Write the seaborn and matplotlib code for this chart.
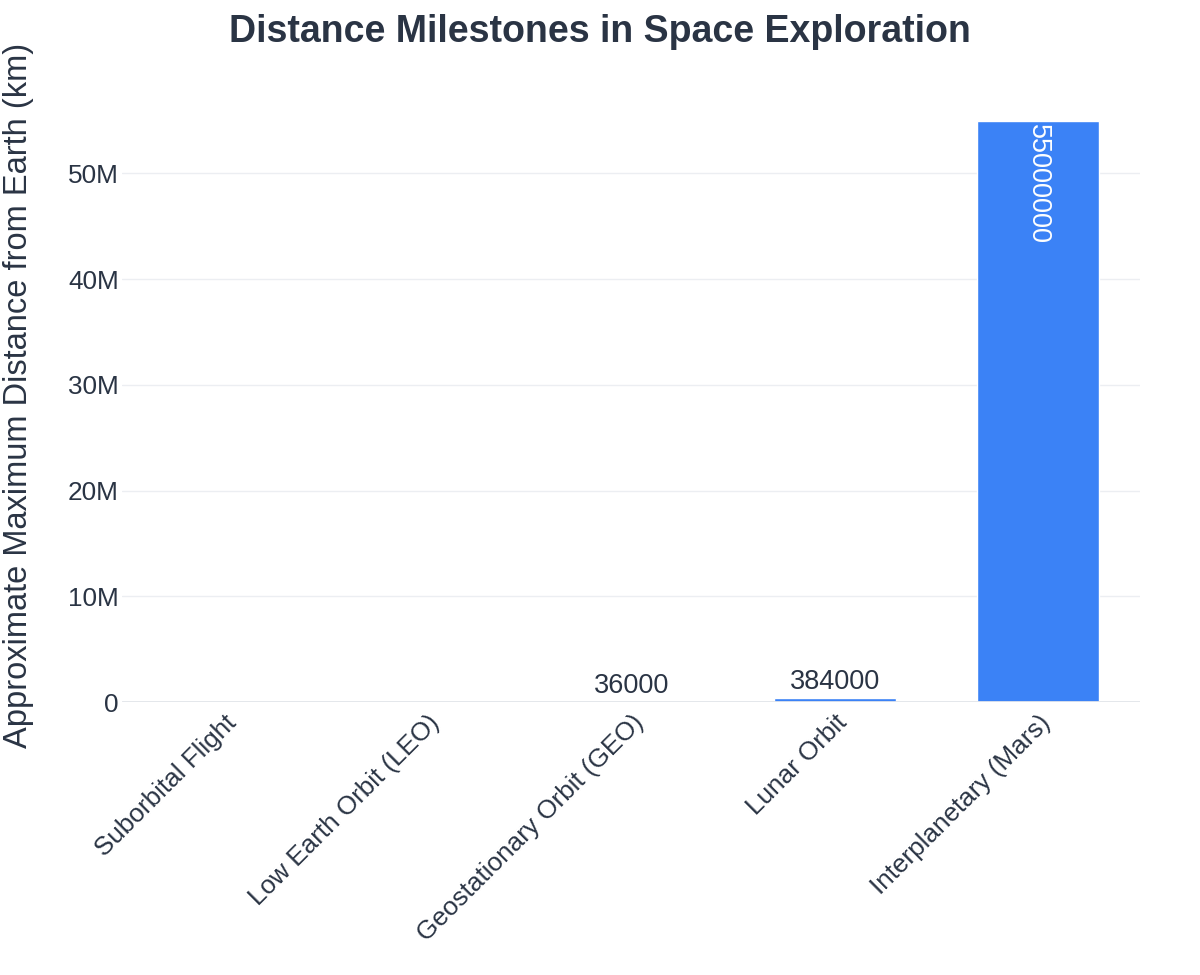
import pandas as pd
import matplotlib.pyplot as plt
import seaborn as sns
from matplotlib.ticker import FuncFormatter

# Data
milestones = ['Suborbital Flight', 'Low Earth Orbit (LEO)', 'Geostationary Orbit (GEO)',
              'Lunar Orbit', 'Interplanetary (Mars)']
distances_km = [100, 2000, 36000, 384000, 55000000]
shown_labels = [False, False, True, True, True]

TEXT = '#2a3444'
BLUE = '#3b82f6'

sns.set_theme(style='white')
plt.rcParams['font.family'] = ['Liberation Sans', 'DejaVu Sans']

df = pd.DataFrame({'milestone': milestones, 'distance': distances_km})

fig = plt.figure(figsize=(12, 9.75), dpi=100)
ax = fig.add_axes([0.102, 0.28, 0.848, 0.628])

sns.barplot(data=df, x='milestone', y='distance', color=BLUE, width=0.6,
            saturation=1, ax=ax, zorder=3)

ymax = max(distances_km) * 1.053
ax.set_ylim(0, ymax)
ax.set_xlim(-0.5, len(milestones) - 0.5)
ax.set_yticks([0, 10e6, 20e6, 30e6, 40e6, 50e6])
ax.yaxis.set_major_formatter(FuncFormatter(lambda v, p: '0' if v == 0 else f'{int(v / 1e6)}M'))
ax.grid(axis='y', color='#eceef2', linewidth=1, zorder=0)
ax.axhline(0, color='#e2e5ea', linewidth=2, zorder=4)
sns.despine(ax=ax, left=True, bottom=True)
ax.tick_params(axis='both', length=0, labelsize=18.8, colors=TEXT)
ax.tick_params(axis='y', pad=2.5)
ax.tick_params(axis='x', pad=6)
plt.setp(ax.get_xticklabels(), rotation=45, ha='right', rotation_mode='anchor')

ax.set_xlabel('')
ax.set_ylabel('Approximate Maximum Distance from Earth (km)', fontsize=23.5, color=TEXT)
ax.yaxis.set_label_coords(-0.087, 0.5)
fig.text(0.5, 0.967, 'Distance Milestones in Space Exploration', fontsize=27,
         fontweight='bold', color=TEXT, ha='center', va='center')

# value labels
for i, (val, show) in enumerate(zip(distances_km, shown_labels)):
    if not show:
        continue
    if val > ymax * 0.3:
        ax.text(i, val - ymax * 0.005, str(val), rotation=270, ha='center', va='top',
                fontsize=19.5, color='white', zorder=5)
    else:
        ax.text(i, val + ymax * 0.004, str(val), ha='center', va='bottom',
                fontsize=19.5, color=TEXT, zorder=5)

fig.savefig('out.png', dpi=100, facecolor='white')
